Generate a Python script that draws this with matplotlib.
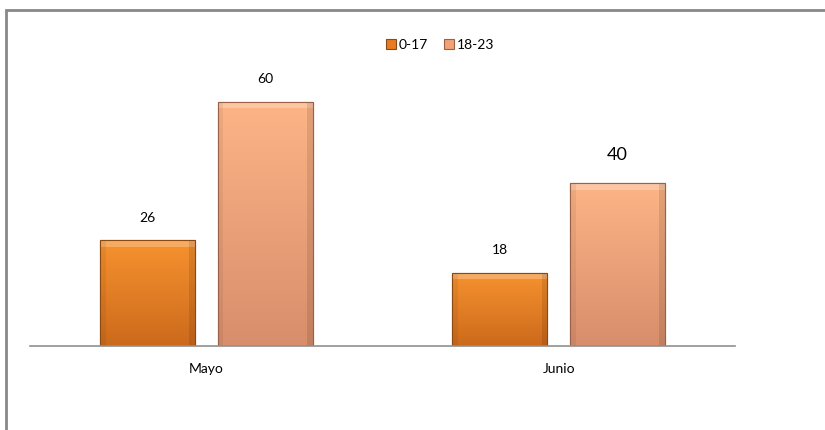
import numpy as np
import matplotlib.pyplot as plt
from matplotlib.patches import Rectangle
from matplotlib.colors import LinearSegmentedColormap

plt.rcParams['font.family'] = ['Lato', 'DejaVu Sans']

# Data
categories = ['Mayo', 'Junio']
series_names = ['0-17', '18-23']
values_0_17 = [26, 18]
values_18_23 = [60, 40]
label_sizes = [[10, 10], [10, 13]]

fig = plt.figure(figsize=(8.25, 4.3), dpi=100)
ax = fig.add_axes([30 / 825, 84 / 430, 705 / 825, 285 / 430])

x = np.arange(len(categories))
width = 0.27
offset = 0.167

# gradient colours (top, bottom) and edge colour per series
styles = [
    {'top': '#f7922f', 'bottom': '#cc6a1c', 'edge': '#8a4a14', 'face': '#e97b24'},
    {'top': '#fdb486', 'bottom': '#d88e6c', 'edge': '#9a6048', 'face': '#f3a278'},
]

all_series = [values_0_17, values_18_23]
for i, vals in enumerate(all_series):
    st = styles[i]
    pos = x + (i * 2 - 1) * offset
    bars = ax.bar(pos, vals, width, color=st['face'], edgecolor=st['edge'],
                  linewidth=0.8, label=series_names[i], zorder=2)
    cmap = LinearSegmentedColormap.from_list('g%d' % i, [st['bottom'], st['top']])
    for b, v, fs in zip(bars, vals, label_sizes[i]):
        x0, w, h = b.get_x(), b.get_width(), b.get_height()
        grad = np.linspace(0, 1, 100).reshape(-1, 1)
        im = ax.imshow(grad, extent=[x0, x0 + w, 0, h], origin='lower',
                       cmap=cmap, aspect='auto', zorder=2.5)
        im.set_clip_path(b)
        # bevel highlight at top and darker side shading
        ax.add_patch(Rectangle((x0, h - 1.6), w, 1.6, color='white', alpha=0.25,
                               lw=0, zorder=3))
        ax.add_patch(Rectangle((x0, 0), w * 0.06, h, color='black', alpha=0.06,
                               lw=0, zorder=3))
        ax.add_patch(Rectangle((x0 + w * 0.94, 0), w * 0.06, h, color='black',
                               alpha=0.10, lw=0, zorder=3))
        ax.add_patch(Rectangle((x0, 0), w, h, fill=False, edgecolor=st['edge'],
                               lw=0.8, zorder=4))
        ax.text(b.get_x() + w / 2, h + (5.5 if fs == 10 else 7), str(v),
                ha='center', va='center', fontsize=fs, color='black')

ax.set_xlim(-0.5, len(categories) - 0.5)
ax.set_ylim(0, 70)
ax.set_xticks(x)
ax.set_xticklabels(categories, fontsize=10)
ax.tick_params(axis='x', length=0, pad=12)
ax.set_yticks([])
for s in ['top', 'right', 'left']:
    ax.spines[s].set_visible(False)
ax.spines['bottom'].set_color('#909090')
ax.spines['bottom'].set_linewidth(1.2)
ax.spines['bottom'].set_zorder(5)

leg = ax.legend(loc='center', bbox_to_anchor=(440 / 825, 1 - 45 / 430),
                bbox_transform=fig.transFigure, ncol=2, frameon=False,
                fontsize=10, handlelength=0.7, handleheight=0.7,
                handletextpad=0.2, columnspacing=1.2)

# chart frame
fig.patches.append(Rectangle((6 / 825, -0.1), 1.2, (430 - 10) / 430 + 0.1,
                             transform=fig.transFigure, fill=False,
                             edgecolor='#888888', lw=2))

fig.savefig('out.png', dpi=100)
